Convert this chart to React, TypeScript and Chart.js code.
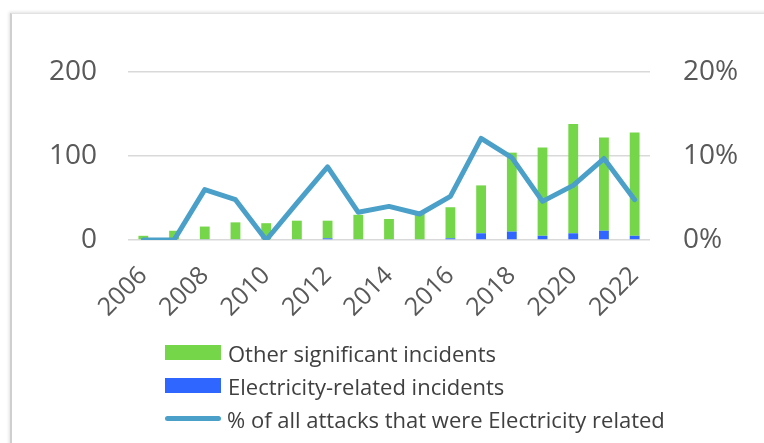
import React, { useEffect, useRef } from "react";
import { Chart, registerables } from "chart.js";

Chart.register(...registerables);

const years = ["2006","2007","2008","2009","2010","2011","2012","2013","2014","2015","2016","2017","2018","2019","2020","2021","2022"];
const otherIncidents = [5, 11, 15, 20, 20, 22, 21, 29, 24, 30, 37, 57, 94, 105, 130, 111, 123];
const electricityIncidents = [0, 0, 1, 1, 0, 1, 2, 1, 1, 1, 2, 8, 10, 5, 8, 11, 5];
const percentElectricity = [0, 0, 6.0, 4.8, 0, 4.4, 8.7, 3.3, 4.0, 3.1, 5.2, 12.1, 9.8, 4.6, 6.5, 9.7, 4.8];
const leftTicks = [0, 100, 200];
const rightTicks = [0, 10, 20];

const legendItems = [
  { label: "Other significant incidents", color: "#76D64A", kind: "box" },
  { label: "Electricity-related incidents", color: "#2F66FF", kind: "box" },
  { label: "% of all attacks that were Electricity related", color: "#4AA0C8", kind: "line" },
];

const FONT = "'Open Sans', 'Liberation Sans', sans-serif";
const GREY = "#595959";

export default function App() {
  const ref = useRef<HTMLCanvasElement | null>(null);
  useEffect(() => {
    if (!ref.current) return;
    const chart = new Chart(ref.current, {
      type: "bar",
      data: {
        labels: years,
        datasets: [
          {
            type: "line",
            label: "% of all attacks that were Electricity related",
            data: percentElectricity,
            yAxisID: "y1",
            borderColor: "#4AA0C8",
            backgroundColor: "#4AA0C8",
            borderWidth: 5,
            pointRadius: 0,
            tension: 0,
            borderJoinStyle: "round",
            borderCapStyle: "round",
            order: 0,
          } as any,
          {
            label: "Electricity-related incidents",
            data: electricityIncidents,
            yAxisID: "y",
            backgroundColor: "#2F66FF",
            categoryPercentage: 1,
            barPercentage: 0.32,
            order: 1,
          },
          {
            label: "Other significant incidents",
            data: otherIncidents,
            yAxisID: "y",
            backgroundColor: "#76D64A",
            categoryPercentage: 1,
            barPercentage: 0.32,
            order: 2,
          },
        ],
      },
      options: {
        responsive: false,
        animation: false,
        layout: { padding: { left: 0, right: 0, top: 72, bottom: 103 } },
        plugins: { legend: { display: false }, tooltip: { enabled: false } },
        scales: {
          x: {
            stacked: true,
            grid: { display: false },
            border: { display: false },
            ticks: {
              autoSkip: false,
              maxRotation: 45,
              minRotation: 45,
              padding: 13,
              color: GREY,
              font: { family: FONT, size: 25 },
              callback: (_v: any, i: number) => (i % 2 === 0 ? years[i] : ""),
            },
            afterFit: (s: any) => { s.height = 100; },
          },
          y: {
            stacked: true,
            position: "left",
            min: 0,
            max: 200,
            afterBuildTicks: (s: any) => { s.ticks = leftTicks.map((v) => ({ value: v })); },
            grid: { color: "#D9D9D9", lineWidth: 1.5, drawTicks: false },
            border: { display: false },
            ticks: { padding: 31, color: GREY, font: { family: FONT, size: 28 } },
            afterFit: (s: any) => { s.width = 128; },
          },
          y1: {
            position: "right",
            min: 0,
            max: 20,
            afterBuildTicks: (s: any) => { s.ticks = rightTicks.map((v) => ({ value: v })); },
            grid: { display: false, drawTicks: false },
            border: { display: false },
            ticks: {
              padding: 33,
              color: GREY,
              font: { family: FONT, size: 28 },
              callback: (v: any) => `${v}%`,
            },
            afterFit: (s: any) => { s.width = 114; },
          },
        },
      },
    });
    return () => chart.destroy();
  }, []);

  return (
    <div style={{ position: "fixed", left: 0, top: 0, width: 764, height: 443, background: "#fff", overflow: "hidden" }}>
      <div
        style={{
          position: "absolute",
          left: 10,
          top: 13,
          width: 800,
          height: 500,
          borderLeft: "2px solid #CFCFCF",
          borderTop: "1px solid #E2E2E2",
          boxShadow: "-1px -1px 3px rgba(0,0,0,0.12)",
          background: "#fff",
        }}
      />
      <canvas ref={ref} width={764} height={443} style={{ position: "absolute", left: 0, top: 0 }} />
      <div style={{ position: "absolute", left: 165, top: 336, fontFamily: FONT, fontSize: 22, color: "#404040" }}>
        {legendItems.map((it) => (
          <div key={it.label} style={{ display: "flex", alignItems: "center", height: 33, whiteSpace: "nowrap" }}>
            <span
              style={{
                display: "inline-block",
                width: 56,
                height: it.kind === "box" ? 15 : 5,
                borderRadius: it.kind === "box" ? 0 : 3,
                background: it.color,
                marginRight: it.kind === "box" ? 7 : 6,
                flexShrink: 0,
              }}
            />
            <span>{it.label}</span>
          </div>
        ))}
      </div>
    </div>
  );
}
